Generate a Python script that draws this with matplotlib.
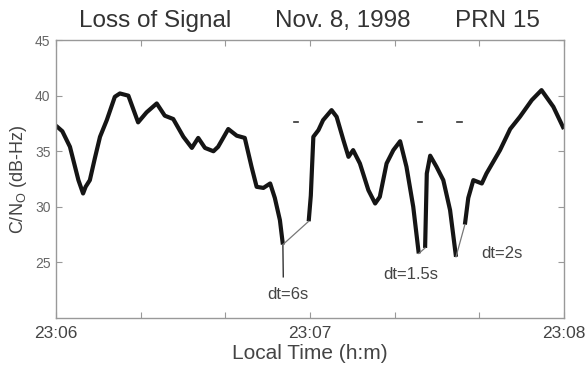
import numpy as np
import matplotlib
matplotlib.use('Agg')
import matplotlib.pyplot as plt

plt.rcParams['font.family'] = ['Liberation Sans', 'DejaVu Sans']
plt.rcParams['mathtext.default'] = 'regular'

# C/N0 trace, seconds after 23:06, split at the signal outages
seg1_t = [0, 1.5, 3.3, 5.3, 6.4, 7.0, 8.0, 9.2, 10.4, 12.0, 13.9, 15.1, 17.1, 19.4, 21.4, 23.8,
          25.7, 27.7, 30.1, 32.1, 33.6, 35.2, 37.2, 38.3, 40.7, 42.7, 44.6, 46.2, 47.4,
          49.0, 50.6, 51.7, 52.9, 53.6]
seg1_v = [37.3, 36.8, 35.4, 32.4, 31.2, 31.8, 32.4, 34.4, 36.3, 37.8, 39.9, 40.2, 40.0, 37.6, 38.5, 39.3,
          38.2, 37.9, 36.3, 35.3, 36.2, 35.3, 35.0, 35.4, 37.0, 36.4, 36.2, 33.6, 31.8,
          31.7, 32.1, 30.8, 28.8, 26.6]
spike_t = 53.7
spike_v = 23.7
seg2_t = [59.7, 60.2, 60.8, 62.0, 63.1, 65.1, 66.3, 67.9, 69.1, 70.2, 71.8, 73.8, 75.4, 76.5,
          78.1, 79.7, 81.3, 82.8, 84.4, 85.7]
seg2_v = [28.7, 31.0, 36.3, 36.9, 37.8, 38.7, 38.1, 36.0, 34.5, 35.1, 33.9, 31.5, 30.3, 30.9,
          33.9, 35.1, 35.9, 33.6, 30.0, 25.8]
seg3_t = [87.2, 87.6, 88.4, 89.9, 91.5, 93.1, 94.5]
seg3_v = [26.3, 33.0, 34.6, 33.6, 32.4, 29.7, 25.5]
seg4_t = [96.6, 97.4, 98.6, 100.6, 101.7, 104.9, 107.3, 109.6, 112.4, 114.7, 117.5, 120]
seg4_v = [28.4, 30.8, 32.4, 32.1, 33.0, 35.1, 37.0, 38.1, 39.6, 40.5, 39.0, 37.0]

# outages: start/end time and level
gap_t0 = [53.6, 85.7, 94.5]
gap_v0 = [26.6, 25.8, 25.5]
gap_t1 = [59.7, 87.2, 96.6]
gap_v1 = [28.7, 26.3, 28.4]
gap_labels = ['dt=6s', 'dt=1.5s', 'dt=2s']
label_t = [54.9, 83.8, 105.3]
label_v = [22.1, 23.9, 25.8]
mark_t = [56.7, 86.0, 95.3]
mark_v = 37.6

xtick_vals = [0, 20, 40, 60, 80, 100, 120]
xtick_labels = ['23:06', '', '', '23:07', '', '', '23:08']
ytick_vals = [25, 30, 35, 40, 45]

txt = '#444444'
edge = '#999999'

fig = plt.figure(figsize=(5.85, 3.68), dpi=100)
ax = fig.add_axes([0.0957, 0.136, 0.8683, 0.755])

for t, v in [(seg1_t, seg1_v), (seg2_t, seg2_v), (seg3_t, seg3_v), (seg4_t, seg4_v)]:
    ax.plot(t, v, color='#151515', linewidth=3.0, solid_joinstyle='round', solid_capstyle='butt')
ax.plot([seg1_t[-1], spike_t], [seg1_v[-1], spike_v], color='#333333', linewidth=1.0)

for i in range(len(gap_t0)):
    ax.plot([gap_t0[i], gap_t1[i]], [gap_v0[i], gap_v1[i]], color='#777777', linewidth=0.9)
    ax.text(label_t[i], label_v[i], gap_labels[i], ha='center', va='center',
            fontsize=12, color=txt)
    ax.plot([mark_t[i] - 0.55, mark_t[i] + 0.55], [mark_v, mark_v], color='#333333', linewidth=1.2)

ax.set_xlim(0, 120)
ax.set_ylim(20, 45)
ax.set_xticks(xtick_vals)
ax.set_xticklabels(xtick_labels)
ax.set_yticks(ytick_vals)
ax.tick_params(direction='in', top=True, right=True, length=4, width=0.8, color=edge)
ax.tick_params(axis='x', labelsize=12.5, labelcolor=txt, pad=6)
ax.tick_params(axis='y', labelsize=10, labelcolor='#666666', pad=4)
for s in ax.spines.values():
    s.set_color(edge)
    s.set_linewidth(1.0)

ax.set_xlabel('Local Time (h:m)', fontsize=15, color=txt, labelpad=2)
ax.set_ylabel('C/N$_{O}$ (dB-Hz)', fontsize=13, color=txt, labelpad=4)

# title pieces
for x, s in [(0.195, 'Loss of Signal'), (0.565, 'Nov. 8, 1998'), (0.870, 'PRN 15')]:
    ax.text(x, 1.047, s, transform=ax.transAxes, ha='center', va='baseline',
            fontsize=17.5, color='#333333')

fig.savefig('out.png', dpi=100)
